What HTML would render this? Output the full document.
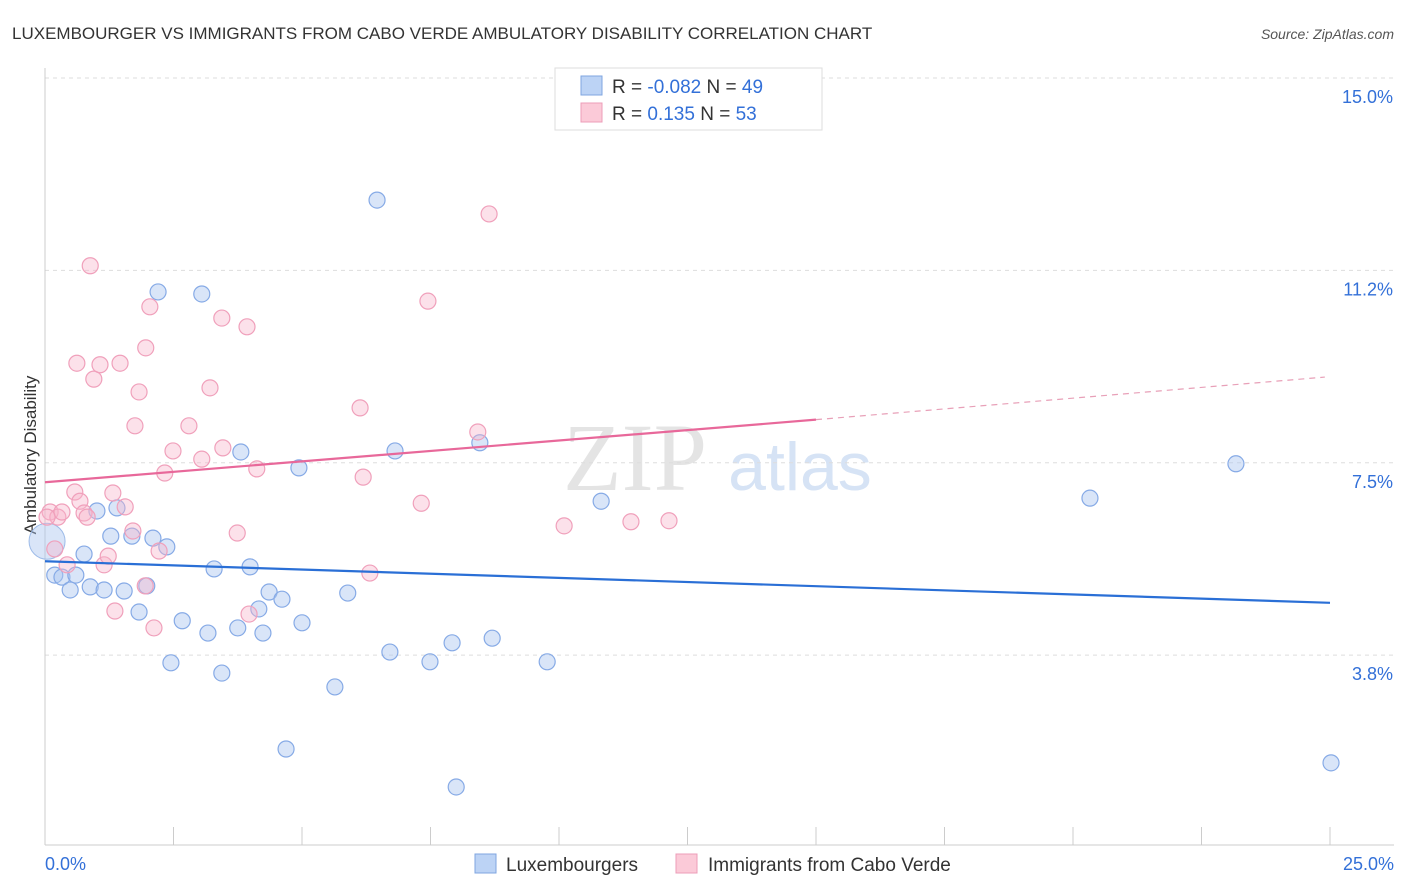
<!DOCTYPE html>
<html><head><meta charset="utf-8"><style>
body{margin:0;background:#fff;font-family:"Liberation Sans",sans-serif}
svg{display:block}
</style></head><body>
<svg id="c" width="1406" height="892" xmlns="http://www.w3.org/2000/svg">
<text x="12" y="39" font-size="17" fill="#333">LUXEMBOURGER VS IMMIGRANTS FROM CABO VERDE AMBULATORY DISABILITY CORRELATION CHART</text>
<text x="1394" y="39" font-size="14" fill="#555" font-style="italic" text-anchor="end">Source: ZipAtlas.com</text>
<text x="36" y="455" font-size="17" fill="#333" text-anchor="middle" transform="rotate(-90 36 455)">Ambulatory Disability</text>
<text x="635" y="490" font-size="96" fill="#e4e4e4" font-family="Liberation Serif,serif" text-anchor="middle">ZIP</text>
<text x="800" y="490" font-size="68" fill="#d6e3f5" text-anchor="middle">atlas</text>
<g id="grid"></g><g id="marks"></g>
<g>
<rect x="555" y="68" width="267" height="62" fill="#fff" stroke="#ddd"/>
<rect x="581" y="76" width="21" height="19" fill="#bcd3f5" stroke="#7fa6e0"/>
<rect x="581" y="103" width="21" height="19" fill="#fbcad8" stroke="#ec9db8"/>
<text x="612" y="93" font-size="19" fill="#333">R = <tspan fill="#3370d8">-0.082</tspan>   N = <tspan fill="#3370d8">49</tspan></text>
<text x="612" y="120" font-size="19" fill="#333">R =   <tspan fill="#3370d8">0.135</tspan>   N = <tspan fill="#3370d8">53</tspan></text>
</g>
<g>
<rect x="475" y="854" width="21" height="19" fill="#bcd3f5" stroke="#7fa6e0"/>
<text x="506" y="871" font-size="19" fill="#333">Luxembourgers</text>
<rect x="676" y="854" width="21" height="19" fill="#fbcad8" stroke="#ec9db8"/>
<text x="708" y="871" font-size="19" fill="#333">Immigrants from Cabo Verde</text>
</g>
</svg>
<script>
const blueX=[0.19,0.33,0.49,0.60,0.76,0.88,1.01,1.15,1.28,1.40,1.54,1.69,1.83,1.98,2.10,2.20,2.37,2.45,2.67,3.05,3.17,3.29,3.44,3.75,3.81,3.99,4.16,4.24,4.36,4.61,4.69,4.94,5.00,5.64,5.89,6.46,6.71,6.81,7.49,7.92,8.00,8.46,8.70,9.77,10.82,20.33,23.17,25.02];
const blueY=[5.31,5.27,5.02,5.31,5.72,5.08,6.56,5.02,6.07,6.62,5.00,6.07,4.59,5.10,6.03,10.83,5.86,3.60,4.42,10.79,4.18,5.43,3.40,4.28,7.71,5.47,4.65,4.18,4.98,4.84,1.92,7.40,4.38,3.13,4.96,12.62,3.81,7.73,3.62,3.99,1.18,7.89,4.08,3.62,6.75,6.81,7.48,1.65];
const pinkX=[0.10,0.19,0.25,0.33,0.43,0.58,0.62,0.68,0.76,0.82,0.88,0.95,1.07,1.15,1.23,1.32,1.36,1.46,1.56,1.71,1.75,1.83,1.95,1.96,2.04,2.12,2.22,2.33,2.49,2.80,3.05,3.21,3.44,3.46,3.74,3.93,3.97,4.12,6.13,6.19,6.32,7.32,7.45,8.42,8.64,10.10,11.40,12.14,0.04];
const pinkY=[6.54,5.82,6.44,6.54,5.51,6.93,9.44,6.75,6.52,6.44,11.34,9.13,9.41,5.51,5.68,6.91,4.61,9.44,6.64,6.17,8.22,8.88,5.10,9.74,10.54,4.28,5.78,7.30,7.73,8.22,7.57,8.96,10.32,7.79,6.13,10.15,4.55,7.38,8.57,7.22,5.35,6.71,10.65,8.10,12.35,6.27,6.35,6.37,6.44];
const blueTrend=[5.58,4.77];
const pinkTrend=[7.12,8.34,9.17];
const yTicks=[15.0,11.25,7.5,3.75];
const yTickLabels=["15.0%","11.2%","7.5%","3.8%"];
const xTicks=[0,2.5,5,7.5,10,12.5,15,17.5,20,22.5,25];
const X=v=>45+v*51.4, Y=v=>78+(15-v)*51.3;
const NS="http://www.w3.org/2000/svg";
function mk(t,a,p){const e=document.createElementNS(NS,t);for(const k in a)e.setAttribute(k,a[k]);p.appendChild(e);return e;}
const g=document.getElementById('grid'), m=document.getElementById('marks');
yTicks.forEach((v,i)=>{
 const l=mk('line',{x1:45,x2:1394,y1:Y(v),y2:Y(v),stroke:'#ddd','stroke-dasharray':'4 4'},g);
 
 
 const t=mk('text',{x:1393,y:Y(v)+25,'font-size':18,fill:'#3370d8','text-anchor':'end'},g);
 t.textContent=yTickLabels[i];
 
 
});
const ax=mk('line',{x1:45,x2:45,y1:68,y2:845,stroke:'#ccc'},g);


const bx=mk('line',{x1:45,x2:1394,y1:845,y2:845,stroke:'#ccc'},g);


xTicks.forEach(v=>{const l=mk('line',{x1:X(v),x2:X(v),y1:827,y2:845,stroke:'#ccc'},g);
 
 });
[["0.0%",45,'start'],["25.0%",1394,'end']].forEach(a=>{const t=mk('text',{x:a[1],y:870,'font-size':18,fill:'#3370d8','text-anchor':a[2]},g);t.textContent=a[0];
 
 });
const big=mk('circle',{cx:X(0.04),cy:Y(5.97),r:18,fill:'rgba(170,198,240,0.45)',stroke:'#9dbbe8'},m);


blueX.forEach((v,i)=>{const c=mk('circle',{cx:X(v),cy:Y(blueY[i]),r:8,fill:'rgba(170,198,240,0.45)',stroke:'#86aae6','stroke-width':1.2},m);
 
 });
pinkX.forEach((v,i)=>{const c=mk('circle',{cx:X(v),cy:Y(pinkY[i]),r:8,fill:'rgba(248,180,202,0.4)',stroke:'#f0a0bb','stroke-width':1.2},m);
 
 });
const bl=mk('line',{x1:X(0),y1:Y(blueTrend[0]),x2:X(25),y2:Y(blueTrend[1]),stroke:'#2a6fd6','stroke-width':2.2},m);


const pl=mk('line',{x1:X(0),y1:Y(pinkTrend[0]),x2:X(15),y2:Y(pinkTrend[1]),stroke:'#e8689a','stroke-width':2.2},m);


const pd=mk('line',{x1:X(15),y1:Y(pinkTrend[1]),x2:X(24.9),y2:Y(pinkTrend[2]),stroke:'#e8a0b8','stroke-width':1.2,'stroke-dasharray':'6 5'},m);


</script>
</body></html>
